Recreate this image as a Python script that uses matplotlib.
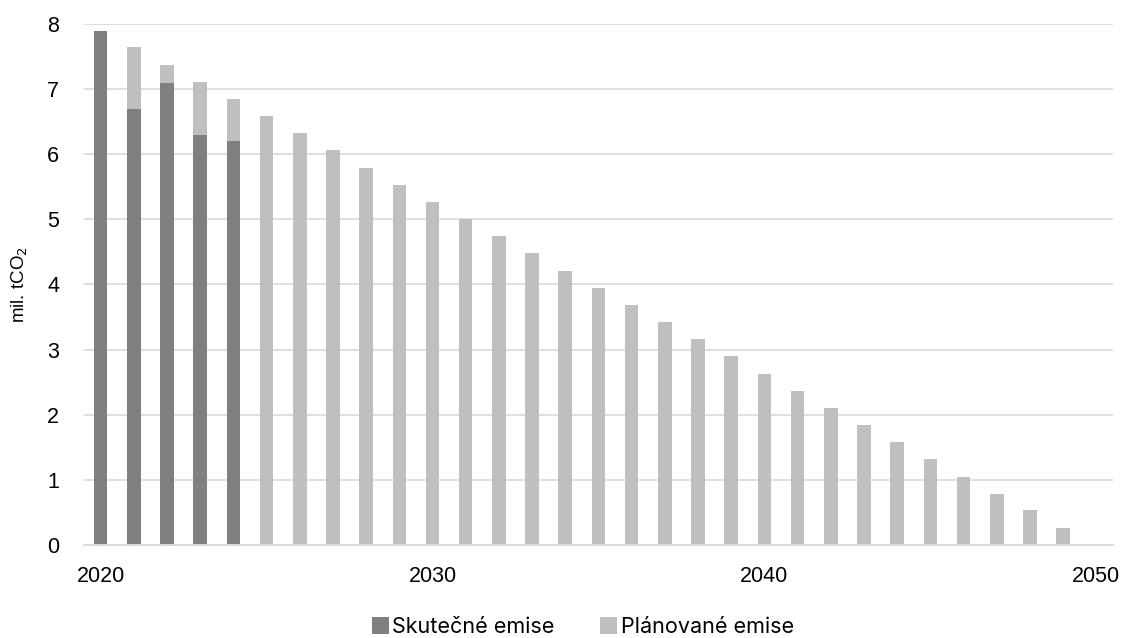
import numpy as np
import matplotlib.pyplot as plt

plt.rcParams['font.family'] = ['Liberation Sans', 'DejaVu Sans']

# Data (mil. tCO2)
actual_years = [2020, 2021, 2022, 2023, 2024]
actual = [7.9, 6.7, 7.1, 6.3, 6.2]
planned_years = list(range(2021, 2050))
planned = [7.64, 7.37, 7.11, 6.85, 6.58, 6.32, 6.06, 5.79, 5.53, 5.27,
           5.00, 4.74, 4.48, 4.21, 3.95, 3.69, 3.42, 3.16, 2.90, 2.63,
           2.37, 2.11, 1.84, 1.58, 1.32, 1.05, 0.79, 0.53, 0.26]
x_ticks = [2020, 2030, 2040, 2050]

dark = '#7f7f7f'
light = '#bfbfbf'

fig = plt.figure(figsize=(11.23, 6.38), dpi=100)
ax = fig.add_axes([0.0748, 0.1458, 0.9162, 0.8166])

# planned bars behind, actual bars on top
ax.bar(planned_years, planned, width=0.41, color=light, label='Plánované emise', zorder=2)
ax.bar(actual_years, actual, width=0.41, color=dark, label='Skutečné emise', zorder=3)

ax.set_xlim(2019.5, 2050.5)
ax.set_ylim(0, 8)
ax.set_xticks(x_ticks)
ax.set_yticks(range(0, 9))

ax.grid(axis='y', color='#d9d9d9', linewidth=1.2, zorder=0)
for s in ['top', 'right', 'left']:
    ax.spines[s].set_visible(False)
ax.spines['bottom'].set_color('#d9d9d9')
ax.spines['bottom'].set_linewidth(1.4)
ax.spines['bottom'].set_zorder(4)

ax.tick_params(axis='both', length=0, labelsize=15.5)
ax.tick_params(axis='y', pad=18)
ax.tick_params(axis='x', pad=15)

ax.set_ylabel('mil. tCO$_2$', fontsize=13.5)
ax.yaxis.set_label_coords(-0.052, 0.5)

handles, labels = ax.get_legend_handles_labels()
fig.legend(handles[::-1], labels[::-1], loc='center', bbox_to_anchor=(0.519, 0.017),
           ncol=2, frameon=False, prop={'family': 'Inter', 'size': 15.5},
           handlelength=0.8, handleheight=0.8, handletextpad=0.15, columnspacing=2.1)

fig.savefig('out.png', dpi=100)
